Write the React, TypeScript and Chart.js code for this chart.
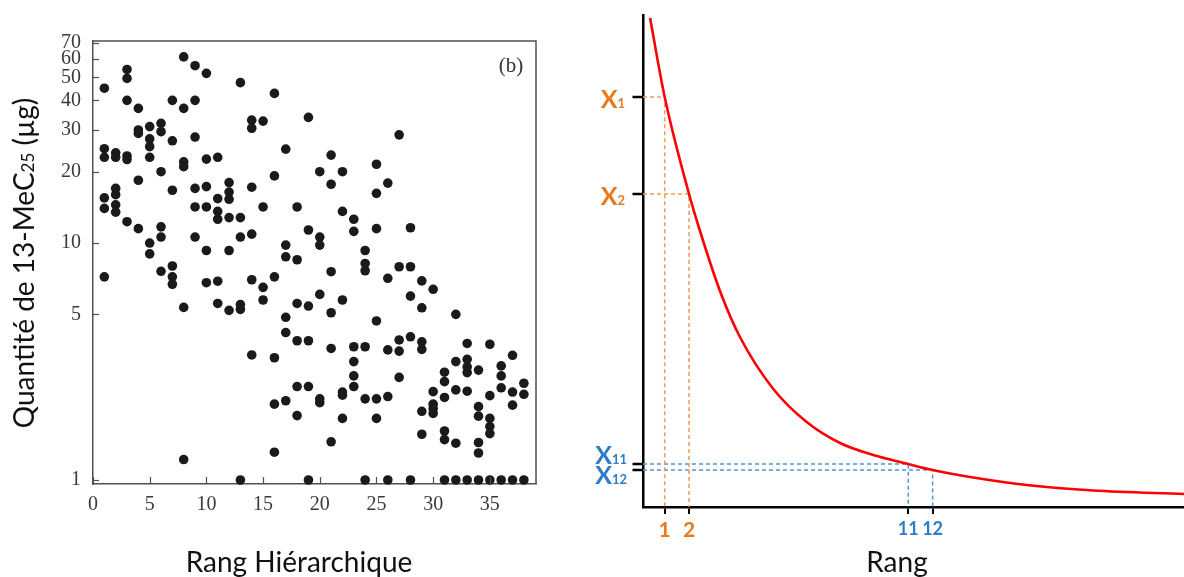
import React, { useEffect, useRef } from 'react';
import { Chart, registerables } from 'chart.js';

Chart.register(...registerables);

// ---------- Left panel data (quantity of 13-MeC25 per hierarchical rank) ----------
const quantitiesByRank: number[][] = [
  [45, 25, 23, 15.5, 14, 7.2],
  [24, 23, 17, 16, 14.5, 13.5],
  [54, 49.5, 40, 23.3, 22.5, 12.3],
  [37, 30, 29, 18.4, 11.5],
  [31, 27.5, 25.5, 23, 10, 9],
  [32, 29.5, 20, 11.7, 10.6, 7.6],
  [40, 27, 16.7, 8, 7.2, 6.7],
  [61, 37, 22, 21, 5.35, 1.22],
  [56, 40, 28, 17, 14.2, 10.6],
  [52, 22.6, 17.3, 14.2, 9.3, 6.8],
  [23, 15.4, 13.6, 12.6, 6.9, 5.56],
  [18, 16.4, 15.3, 12.8, 9.3, 5.2],
  [47.5, 12.8, 10.6, 5.5, 5.25, 1],
  [33, 30.5, 17.2, 10.9, 7, 3.37],
  [32.7, 14.2, 6.5, 5.75],
  [42.8, 19.2, 7.2, 3.28, 2.09, 1.31],
  [24.9, 9.8, 8.75, 4.86, 4.19, 2.16],
  [14.2, 8.5, 5.56, 3.87, 2.48, 1.87],
  [33.9, 11.35, 5.42, 3.87, 2.48, 1],
  [20, 10.6, 9.8, 6.07, 2.2, 2.12],
  [23.5, 17.7, 7.57, 5.08, 3.59, 1.45],
  [20, 13.6, 5.75, 2.35, 2.28, 1.82],
  [12.6, 11.2, 3.65, 3.16, 2.75, 2.48],
  [9.3, 8.2, 7.64, 3.65, 2.2, 1],
  [21.5, 16.2, 11.5, 4.69, 2.2, 1.82],
  [17.9, 7.1, 3.54, 2.25, 1],
  [28.6, 7.94, 3.9, 3.5, 2.71],
  [11.6, 7.94, 5.97, 4.02, 1],
  [6.92, 5.33, 3.83, 3.56, 1.95, 1.56],
  [6.38, 2.36, 2.09, 2.0, 1.91],
  [2.85, 2.6, 2.23, 1.61, 1.48, 1],
  [5.0, 3.16, 2.4, 1.43, 1],
  [3.77, 3.23, 3.0, 2.84, 2.37, 1],
  [2.91, 2.04, 1.86, 1.44, 1.3, 1],
  [3.74, 2.27, 1.82, 1.68, 1.57, 1],
  [3.03, 2.75, 2.45, 1],
  [3.36, 2.35, 2.07, 1],
  [2.56, 2.3, 1],
];
const leftXTicks = [0, 5, 10, 15, 20, 25, 30, 35];
const leftYTicks = [1, 5, 10, 20, 30, 40, 50, 60, 70];
const leftXTitle = 'Rang Hiérarchique';
const leftYTitleMain = 'Quantité de 13-MeC';
const leftYTitleSub = '25';
const leftYTitleEnd = ' (µg)';
const panelTag = '(b)';

// ---------- Right panel data (schematic decreasing curve) ----------
const curveRanks = [0.4, 1, 2, 2.45, 3.27, 4.09, 5.46, 6.83, 8.2, 9.56, 11, 12, 13.54, 15.86, 18.6, 22.32];
const curveValues = [489, 410, 313, 276, 216, 170, 118, 85, 64, 52, 43, 37, 30, 22, 16.5, 13];
const markerRanks = [1, 2, 11, 12];
const markerSubscripts = ['1', '2', '11', '12'];
const rightXTitle = 'Rang';

const ORANGE = '#E8791C';
const BLUE = '#2E7DC6';
const ORANGE_LINE = '#F19A55';
const BLUE_LINE = '#4C95D6';
const AXIS_GRAY = '#505050';
const SANS = 'Lato, "Open Sans", sans-serif';
const SERIF = '"Liberation Serif", "DejaVu Serif", serif';

type Part = { text: string; font: string; color: string; dy?: number };
function drawParts(ctx: CanvasRenderingContext2D, parts: Part[], x: number, y: number, align: 'left' | 'center' | 'right') {
  ctx.textAlign = 'left';
  ctx.textBaseline = 'alphabetic';
  let total = 0;
  const widths = parts.map((p) => {
    ctx.font = p.font;
    const w = ctx.measureText(p.text).width;
    total += w;
    return w;
  });
  let cx = align === 'center' ? x - total / 2 : align === 'right' ? x - total : x;
  parts.forEach((p, i) => {
    ctx.font = p.font;
    ctx.fillStyle = p.color;
    ctx.fillText(p.text, cx, y + (p.dy || 0));
    cx += widths[i];
  });
}

const leftDecor = {
  id: 'leftDecor',
  afterDraw(chart: any) {
    const { ctx, chartArea: a, scales } = chart;
    const x = scales.x;
    const y = scales.y;
    ctx.save();
    ctx.strokeStyle = AXIS_GRAY;
    ctx.lineWidth = 1.5;
    ctx.beginPath();
    ctx.moveTo(a.left, a.top);
    ctx.lineTo(a.right, a.top);
    ctx.lineTo(a.right, a.bottom);
    ctx.stroke();
    ctx.lineWidth = 1.2;
    leftYTicks.forEach((v) => {
      const py = Math.round(y.getPixelForValue(v)) + 0.5;
      ctx.beginPath();
      ctx.moveTo(a.left, py);
      ctx.lineTo(a.left + 6, py);
      ctx.stroke();
    });
    leftXTicks.forEach((v) => {
      const px = Math.round(x.getPixelForValue(v)) + 0.5;
      ctx.beginPath();
      ctx.moveTo(px, a.bottom);
      ctx.lineTo(px, a.bottom - 7);
      ctx.stroke();
    });
    // panel tag
    ctx.font = `21px ${SERIF}`;
    ctx.fillStyle = '#333';
    ctx.textAlign = 'center';
    ctx.textBaseline = 'middle';
    ctx.fillText(panelTag, 511, 66);
    // x title
    drawParts(ctx, [{ text: leftXTitle, font: `28px ${SANS}`, color: '#111' }], 299, 571.5, 'center');
    // y title (rotated, with subscript)
    ctx.save();
    ctx.translate(34, 263);
    ctx.rotate(-Math.PI / 2);
    drawParts(
      ctx,
      [
        { text: leftYTitleMain, font: `28px ${SANS}`, color: '#111' },
        { text: leftYTitleSub, font: `17px ${SANS}`, color: '#111', dy: 0 },
        { text: leftYTitleEnd, font: `28px ${SANS}`, color: '#111' },
      ],
      0,
      0,
      'center'
    );
    ctx.restore();
    ctx.restore();
  },
};

const markerValue = (r: number) => curveValues[curveRanks.indexOf(r)];

const rightDecor = {
  id: 'rightDecor',
  afterDraw(chart: any) {
    const { ctx, chartArea: a, scales } = chart;
    const y = scales.y;
    ctx.save();
    ctx.strokeStyle = '#000';
    ctx.lineWidth = 2.5;
    const labelDy = [11, 11, 0, 13.5];
    const labelRight = [65, 65, 67, 67];
    markerRanks.forEach((r, i) => {
      const py = y.getPixelForValue(markerValue(r));
      ctx.beginPath();
      ctx.moveTo(a.left - 10.5, py);
      ctx.lineTo(a.left, py);
      ctx.stroke();
      const color = i < 2 ? ORANGE : BLUE;
      drawParts(
        ctx,
        [
          { text: 'X', font: `bold 25px ${SANS}`, color },
          { text: markerSubscripts[i], font: `bold 13px ${SANS}`, color },
        ],
        labelRight[i],
        py + labelDy[i],
        'right'
      );
    });
    drawParts(ctx, [{ text: rightXTitle, font: `28px ${SANS}`, color: '#111' }], 337, 571.5, 'center');
    ctx.restore();
  },
};

function buildLeft(canvas: HTMLCanvasElement) {
  const points = quantitiesByRank.flatMap((vals, i) => vals.map((v) => ({ x: i + 1, y: v })));
  return new Chart(canvas, {
    type: 'scatter',
    data: {
      datasets: [
        {
          data: points,
          backgroundColor: '#1a1a1a',
          borderWidth: 0,
          pointRadius: 4.8,
          pointHoverRadius: 4.8,
          clip: false as any,
        },
      ],
    },
    options: {
      responsive: false,
      animation: false,
      events: [],
      layout: { padding: { top: 41, right: 24, left: 0, bottom: 0 } },
      plugins: { legend: { display: false }, tooltip: { enabled: false } },
      scales: {
        x: {
          type: 'linear',
          min: 0,
          max: 39.07,
          afterBuildTicks: (s: any) => {
            s.ticks = leftXTicks.map((v) => ({ value: v }));
          },
          afterFit: (s: any) => {
            s.height = 93;
          },
          grid: { display: false },
          border: { display: true, color: AXIS_GRAY, width: 1.5 },
          ticks: {
            autoSkip: false,
            maxRotation: 0,
            padding: 1,
            color: '#3a3a3a',
            font: { family: SERIF, size: 20 },
            callback: (v: any) => String(v),
          },
        },
        y: {
          type: 'logarithmic',
          min: 0.962,
          max: 71.2,
          afterBuildTicks: (s: any) => {
            s.ticks = leftYTicks.map((v) => ({ value: v }));
          },
          afterFit: (s: any) => {
            s.width = 93;
          },
          grid: { display: false },
          border: { display: true, color: AXIS_GRAY, width: 1.5 },
          ticks: {
            autoSkip: false,
            padding: 4,
            color: '#3a3a3a',
            font: { family: SERIF, size: 20 },
            callback: (v: any) => String(v),
          },
        },
      },
    } as any,
    plugins: [leftDecor],
  });
}

function buildRight(canvas: HTMLCanvasElement) {
  const curve = curveRanks.map((r, i) => ({ x: r, y: curveValues[i] }));
  const xMin = 0.11;
  const guides = markerRanks.map((r, i) => {
    const v = markerValue(r);
    return {
      data: [
        { x: xMin, y: v },
        { x: r, y: v },
        { x: r, y: 0 },
      ],
      showLine: true,
      borderColor: i < 2 ? ORANGE_LINE : BLUE_LINE,
      borderWidth: 1.5,
      borderDash: [4, 3],
      pointRadius: 0,
      tension: 0,
      fill: false,
    };
  });
  return new Chart(canvas, {
    type: 'scatter',
    data: {
      datasets: [
        {
          data: curve,
          showLine: true,
          borderColor: '#FF0000',
          borderWidth: 2.6,
          pointRadius: 0,
          cubicInterpolationMode: 'monotone',
          fill: false,
        },
        ...guides,
      ] as any,
    },
    options: {
      responsive: false,
      animation: false,
      events: [],
      layout: { padding: { top: 15, right: 0, left: 0, bottom: 0 } },
      plugins: { legend: { display: false }, tooltip: { enabled: false } },
      scales: {
        x: {
          type: 'linear',
          min: xMin,
          max: 22.32,
          afterBuildTicks: (s: any) => {
            s.ticks = markerRanks.map((v) => ({ value: v }));
          },
          afterFit: (s: any) => {
            s.height = 70;
          },
          grid: { display: true, drawOnChartArea: false, drawTicks: true, tickLength: 7, color: '#000', lineWidth: 2 },
          border: { display: true, color: '#000', width: 2.5 },
          ticks: {
            autoSkip: false,
            maxRotation: 0,
            padding: 4,
            color: (c: any) => (c.index < 2 ? ORANGE : BLUE),
            font: (c: any) => ({ family: SANS, weight: 'bold', size: c.index < 2 ? 21 : 18 }),
            callback: (v: any) => String(v),
          },
        },
        y: {
          type: 'linear',
          min: 0,
          max: 492,
          afterFit: (s: any) => {
            s.width = 83;
          },
          grid: { display: false },
          border: { display: true, color: '#000', width: 2.5 },
          ticks: { display: false },
        },
      },
    } as any,
    plugins: [rightDecor],
  });
}

export default function App() {
  const leftRef = useRef<HTMLCanvasElement>(null);
  const rightRef = useRef<HTMLCanvasElement>(null);
  useEffect(() => {
    let c1: Chart | null = null;
    let c2: Chart | null = null;
    let cancelled = false;
    const make = () => {
      if (cancelled || !leftRef.current || !rightRef.current) return;
      c1 = buildLeft(leftRef.current);
      c2 = buildRight(rightRef.current);
    };
    const fonts = (document as any).fonts;
    if (fonts && fonts.load) {
      Promise.all([
        fonts.load(`28px Lato`),
        fonts.load(`bold 25px Lato`),
        fonts.load(`20px "Liberation Serif"`),
      ])
        .catch(() => null)
        .then(make);
    } else {
      make();
    }
    return () => {
      cancelled = true;
      if (c1) c1.destroy();
      if (c2) c2.destroy();
    };
  }, []);
  return (
    <div style={{ position: 'absolute', left: 0, top: 0, width: 1184, height: 577, background: '#fff', overflow: 'hidden' }}>
      <canvas ref={leftRef} width={560} height={577} style={{ position: 'absolute', left: 0, top: 0, width: 560, height: 577 }} />
      <canvas ref={rightRef} width={624} height={577} style={{ position: 'absolute', left: 560, top: 0, width: 624, height: 577 }} />
    </div>
  );
}
